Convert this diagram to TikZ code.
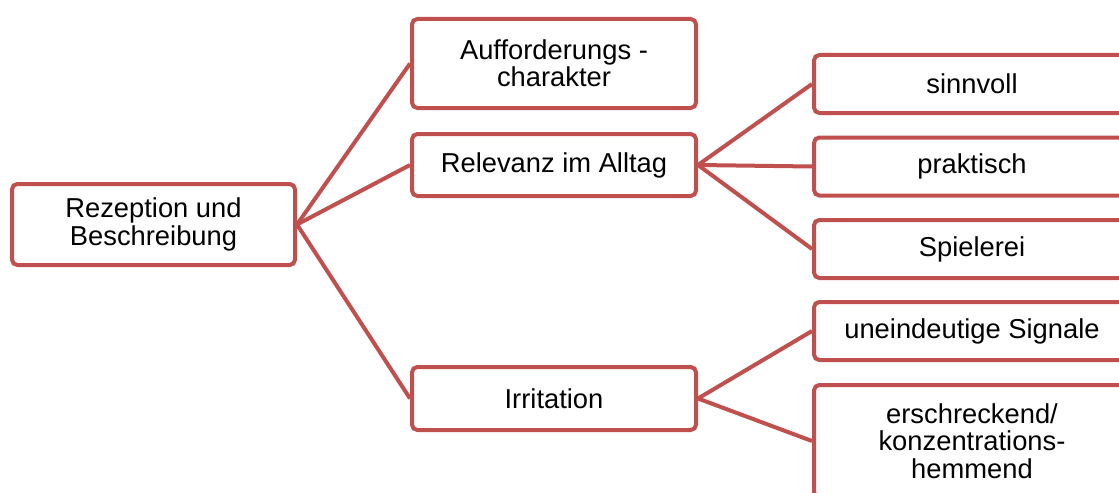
\documentclass[tikz,border=0pt]{standalone}
\usepackage{fontspec}
\setmainfont{Liberation Sans}
\definecolor{acc}{HTML}{C0504D}
\begin{document}
\begin{tikzpicture}[x=0.75pt,y=-0.75pt,
 box/.style={draw=acc, line width=3pt, rounded corners=4pt, fill=white, align=center,
   font=\fontsize{20.5}{20.5}\selectfont, inner sep=0pt},
 link/.style={draw=acc, line width=3pt}]
\useasboundingbox (0,0) rectangle (1119,492);
\clip (0,0) rectangle (1119,492);
\node[box, minimum width=212.25pt, minimum height=60.75pt] (root) at (153.5,224.5) {Rezeption und\\Beschreibung};
\node[box, minimum width=213pt, minimum height=66.75pt] (auff) at (554,63.5) {Aufforderungs -\\charakter};
\node[box, minimum width=213pt, minimum height=46.5pt] (rel) at (554,165) {Relevanz im Alltag};
\node[box, minimum width=213pt, minimum height=47.25pt] (irr) at (554,398.5) {Irritation};
\node[box, minimum width=237pt, minimum height=43.5pt] (sinn) at (972,84) {sinnvoll};
\node[box, minimum width=237pt, minimum height=43.5pt] (prak) at (972,166.5) {praktisch};
\node[box, minimum width=237pt, minimum height=43.5pt] (spiel) at (972,249) {Spielerei};
\node[box, minimum width=237pt, minimum height=43.5pt] (uneind) at (972,331) {uneindeutige Signale};
\node[box, minimum width=237pt, minimum height=84pt] (ersch) at (972,441) {erschreckend/\\konzentrations-\\hemmend};
\draw[link] (root.east) -- (auff.west);
\draw[link] (root.east) -- (rel.west);
\draw[link] (root.east) -- (irr.west);
\draw[link] (rel.east) -- (sinn.west);
\draw[link] (rel.east) -- (prak.west);
\draw[link] (rel.east) -- (spiel.west);
\draw[link] (irr.east) -- (uneind.west);
\draw[link] (irr.east) -- (ersch.west);
\end{tikzpicture}
\end{document}
